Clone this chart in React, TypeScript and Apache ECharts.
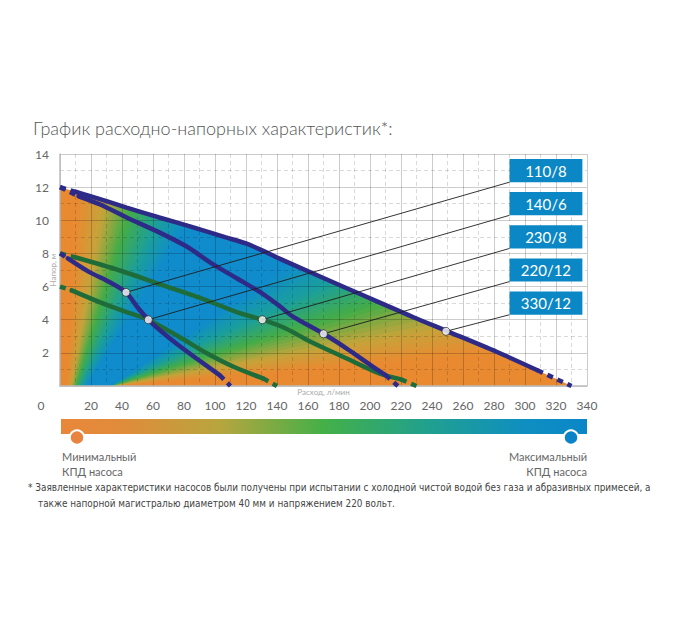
import * as echarts from 'echarts';
import { useEffect, useRef } from 'react';

// Напорные характеристики: [расход, л/мин; напор, м]
const curve110x8 = [[0, 8], [5, 7.7], [19, 6.87], [30, 6.37], [42.6, 5.65], [50, 4.75], [57, 4.0], [64.5, 3.36], [75, 2.56], [88, 1.66], [103, 0.66], [110, 0]];
const curve140x6 = [[0, 6], [7.5, 5.77], [28, 4.97], [45, 4.4], [57, 4.0], [77, 2.96], [95, 1.96], [112, 1.16], [131, 0.46], [140, 0]];
const curve230x8 = [[0, 8], [9.7, 7.77], [38.7, 6.97], [66.6, 6.07], [94.6, 5.17], [114, 4.46], [130.5, 4.0], [145, 3.5], [160, 2.75], [185, 1.66], [206, 0.76], [220, 0.4], [230, 0]];
const curve220x12 = [[0, 12], [12, 11.45], [26, 10.95], [43, 10.17], [64, 9.27], [82, 8.4], [97, 7.45], [114, 6.5], [131, 5.55], [142, 4.8], [150, 4.2], [170, 3.15], [185, 2.26], [202, 1.16], [210, 0.66], [218, 0]];
const curve330x12 = [[0, 12], [10, 11.72], [19, 11.47], [43, 10.77], [64, 10.17], [86, 9.57], [107, 8.97], [120, 8.6], [130, 8.2], [142, 7.67], [163, 6.8], [185, 5.9], [206, 5.05], [228, 4.15], [250, 3.3], [282, 2.05], [308, 0.95], [330, 0]];

// плашки с названиями и точки выносок
const pumpNames = ['110/8', '140/6', '230/8', '220/12', '330/12'];
const pumpCurves = [curve110x8, curve140x6, curve230x8, curve220x12, curve330x12];
const pumpIsGreen = [false, true, true, false, false];
const markerPoints = [[42.6, 5.65], [57, 4.0], [130.5, 4.0], [170, 3.15], [249, 3.3]];
const boxHeads = [13, 11, 9, 7, 5];
const boxFlows = [290, 337];

// КПД: цвета от минимального к максимальному
const rampColors = ['#e98a31', '#c7a43a', '#45ad48', '#1b9f9c', '#108ccc'];
// веерные переходы цвета (центр в координатах графика, угол -> доля шкалы)
const rightFanCenter = [32, 0];
const rightFanStops = [[5, 0], [10, 0.25], [17, 0.5], [25, 0.75], [34, 1]];
const leftFanCenter = [3.2, -2.05];
const leftFanStops = [[58, 1], [65, 0.75], [73, 0.5], [80, 0.25], [87, 0]];

const NAVY = '#2e2a88';
const GREEN = '#1f6c3b';
const BOX_BLUE = '#0b87c5';
const FONT = "Lato, 'Open Sans', sans-serif";
const NOTE_FONT = "'Liberation Sans Narrow', 'DejaVu Sans Condensed', sans-serif";

const TITLE = 'График расходно-напорных характеристик*:';
const NOTE_1 = '* Заявленные характеристики насосов были получены при испытании с холодной чистой водой без газа и абразивных примесей, а';
const NOTE_2 = 'также напорной магистралью диаметром 40 мм и напряжением 220 вольт.';

const hexToRgb = (h: string) => [1, 3, 5].map(i => parseInt(h.slice(i, i + 2), 16));

const rampColor = (t: number) => {
  const k = Math.max(0, Math.min(1, t)) * (rampColors.length - 1);
  const i = Math.min(rampColors.length - 2, Math.floor(k));
  const f = k - i;
  const a = hexToRgb(rampColors[i]);
  const b = hexToRgb(rampColors[i + 1]);
  const c = a.map((v, j) => Math.round(v + (b[j] - v) * f));
  return `rgb(${c[0]},${c[1]},${c[2]})`;
};

const angleToT = (deg: number, stops: number[][]) => {
  if (deg <= stops[0][0]) return stops[0][1];
  for (let i = 1; i < stops.length; i++) {
    if (deg <= stops[i][0]) {
      const [a0, t0] = stops[i - 1];
      const [a1, t1] = stops[i];
      return t0 + ((deg - a0) / (a1 - a0)) * (t1 - t0);
    }
  }
  return stops[stops.length - 1][1];
};

const getOption = (): echarts.EChartsOption => {
  const axisLabel = { color: '#666', fontSize: 12, fontFamily: FONT };
  const splitLine = { show: true, lineStyle: { color: 'rgba(0,0,0,0.2)', width: 1 } };
  const minorSplitLine = { show: true, lineStyle: { color: 'rgba(0,0,0,0.15)', width: 1, type: [4, 3] as any } };

  // цветовое поле КПД под огибающей
  const fillSeries: any = {
    type: 'custom',
    z: 1,
    clip: true,
    silent: true,
    data: [[0, 0]],
    renderItem: (params: any, api: any) => {
      const cs = params.coordSys;
      const children: any[] = [
        { type: 'rect', shape: { x: cs.x, y: cs.y, width: cs.width, height: cs.height }, style: { fill: rampColor(1) } },
      ];
      const R = 1500;
      const addFan = (center: number[], from: number, to: number, stops: number[][]) => {
        const [cx, cy] = api.coord(center);
        for (let a = from; a < to; a += 1) {
          const color = rampColor(angleToT(a + 0.5, stops));
          const r1 = (a * Math.PI) / 180;
          const r2 = ((a + 1) * Math.PI) / 180;
          children.push({
            type: 'polygon',
            shape: { points: [[cx, cy], [cx + R * Math.cos(r1), cy - R * Math.sin(r1)], [cx + R * Math.cos(r2), cy - R * Math.sin(r2)]] },
            style: { fill: color, stroke: color, lineWidth: 1 },
          });
        }
      };
      addFan(rightFanCenter, -6, 36, rightFanStops);
      addFan(leftFanCenter, 56, 130, leftFanStops);
      return { type: 'group', children };
    },
  };

  // белая маска над огибающей
  const maskSeries: any = {
    type: 'line',
    z: 2,
    silent: true,
    symbol: 'none',
    data: [...curve330x12, [340, 0]],
    lineStyle: { width: 0, opacity: 0 },
    areaStyle: { color: '#ffffff', opacity: 1, origin: 'end' },
  };

  const curveOrder = [1, 2, 0, 3, 4];
  const curveSeries: any[] = [];
  curveOrder.forEach(i => {
    const pts = pumpCurves[i];
    const color = pumpIsGreen[i] ? GREEN : NAVY;
    const common = { type: 'line', z: 4, silent: true, symbol: 'none', clip: false };
    curveSeries.push({ ...common, smooth: 0.3, data: pts.slice(1, -1), lineStyle: { color, width: 4.5, cap: 'round' } });
    curveSeries.push({ ...common, data: pts.slice(0, 2), lineStyle: { color, width: 4.5, type: [6, 5] } });
    curveSeries.push({ ...common, data: pts.slice(-2), lineStyle: { color, width: 4.5, type: [6, 5] } });
  });

  const leaderSeries = pumpNames.map((name, i) => ({
    type: 'line',
    name,
    z: 5,
    silent: true,
    symbol: 'none',
    data: [markerPoints[i], [boxFlows[0], boxHeads[i] - 0.7]],
    lineStyle: { color: '#1e1e1e', width: 0.9 },
  }));

  const markerSeries: any = {
    type: 'scatter',
    z: 6,
    silent: true,
    symbol: 'circle',
    symbolSize: 8,
    data: markerPoints,
    itemStyle: { color: '#ffffff', borderColor: '#333', borderWidth: 1 },
  };

  const boxSeries: any = {
    type: 'custom',
    z: 7,
    clip: false,
    silent: true,
    data: pumpNames.map((name, i) => ({ name, value: [boxFlows[0], boxHeads[i], boxFlows[1]] })),
    renderItem: (params: any, api: any) => {
      const p1 = api.coord([api.value(0), api.value(1) + 0.7]);
      const p2 = api.coord([api.value(2), api.value(1) - 0.7]);
      return {
        type: 'group',
        children: [
          { type: 'rect', shape: { x: p1[0], y: p1[1], width: p2[0] - p1[0], height: p2[1] - p1[1] }, style: { fill: BOX_BLUE } },
          {
            type: 'text',
            x: (p1[0] + p2[0]) / 2,
            y: (p1[1] + p2[1]) / 2,
            style: {
              text: pumpNames[params.dataIndex],
              fill: '#ffffff',
              fontSize: 15,
              fontFamily: FONT,
              align: 'center',
              verticalAlign: 'middle',
            },
          },
        ],
      };
    },
  };

  return {
    animation: false,
    backgroundColor: '#ffffff',
    grid: { left: 60, top: 154, width: 527, height: 232, containLabel: false, outerBoundsMode: 'none' } as any,
    xAxis: {
      type: 'value',
      min: 0,
      max: 340,
      interval: 20,
      z: 3,
      axisLine: { show: true, onZero: false, lineStyle: { color: '#bcbcbc', width: 1.5 } },
      axisTick: { show: false },
      minorTick: { show: false, splitNumber: 2 },
      splitLine,
      minorSplitLine,
      axisLabel: {
        ...axisLabel,
        margin: 13,
        formatter: (v: number) => (v === 0 ? '{o|0}' : String(v)),
        rich: { o: { ...axisLabel, padding: [0, 38, 0, 0] } },
      },
      name: 'Расход, л/мин',
      nameLocation: 'middle',
      nameGap: 1.5,
      nameMoveOverlap: false,
      nameTextStyle: { fontSize: 8, color: '#aaa', fontFamily: FONT, verticalAlign: 'top' },
    } as any,
    yAxis: {
      type: 'value',
      min: 0,
      max: 14,
      interval: 2,
      z: 3,
      axisLine: { show: true, lineStyle: { color: '#bcbcbc', width: 1.5 } },
      axisTick: { show: false },
      minorTick: { show: false, splitNumber: 2 },
      splitLine,
      minorSplitLine,
      axisLabel: { ...axisLabel, margin: 11, showMinLabel: false },
      name: 'Напор, м',
      nameLocation: 'middle',
      nameGap: 3,
      nameMoveOverlap: false,
      nameTextStyle: { fontSize: 8, color: '#aaa', fontFamily: FONT },
    } as any,
    graphic: [
      { type: 'text', left: 33, top: 119, style: { text: TITLE, fontSize: 18, fontFamily: FONT, fontWeight: 300, fill: '#555' } },
      {
        type: 'rect',
        shape: { x: 61, y: 419, width: 526, height: 15 },
        style: {
          fill: new echarts.graphic.LinearGradient(0, 0, 1, 0, [
            { offset: 0, color: '#e8873a' },
            { offset: 0.12, color: '#e08c3a' },
            { offset: 0.3, color: '#b8a53e' },
            { offset: 0.5, color: '#44b048' },
            { offset: 0.7, color: '#20a08f' },
            { offset: 0.88, color: '#0f8fc0' },
            { offset: 1, color: '#0a86c8' },
          ]),
        },
      },
      { type: 'circle', shape: { cx: 77, cy: 437.5, r: 7.2 }, style: { fill: '#e8843f', stroke: '#fff', lineWidth: 2 } },
      { type: 'circle', shape: { cx: 571, cy: 437.5, r: 7.2 }, style: { fill: '#0a84c6', stroke: '#fff', lineWidth: 2 } },
      { type: 'text', left: 62, top: 451, style: { text: 'Минимальный', fontSize: 11, fontFamily: FONT, fill: '#666' } },
      { type: 'text', left: 62, top: 466, style: { text: 'КПД насоса', fontSize: 11, fontFamily: FONT, fill: '#666' } },
      { type: 'text', right: 93, top: 451, style: { text: 'Максимальный', fontSize: 11, fontFamily: FONT, fill: '#666' } },
      { type: 'text', right: 93, top: 466, style: { text: 'КПД насоса', fontSize: 11, fontFamily: FONT, fill: '#666' } },
      { type: 'text', left: 28, top: 482, style: { text: NOTE_1, fontSize: 9.9, fontFamily: NOTE_FONT, fill: '#444' } },
      { type: 'text', left: 38, top: 498, style: { text: NOTE_2, fontSize: 9.9, fontFamily: NOTE_FONT, fill: '#444' } },
    ],
    series: [fillSeries, maskSeries, ...curveSeries, ...leaderSeries, markerSeries, boxSeries],
  };
};

export default function App() {
  const chartRef = useRef<HTMLDivElement>(null);

  useEffect(() => {
    if (!chartRef.current) return;
    const chart = echarts.init(chartRef.current, undefined, { renderer: 'svg' });
    chart.setOption(getOption());
    return () => {
      chart.dispose();
    };
  }, []);

  return <div ref={chartRef} style={{ position: 'absolute', left: 0, top: 0, width: 680, height: 630 }} />;
}
